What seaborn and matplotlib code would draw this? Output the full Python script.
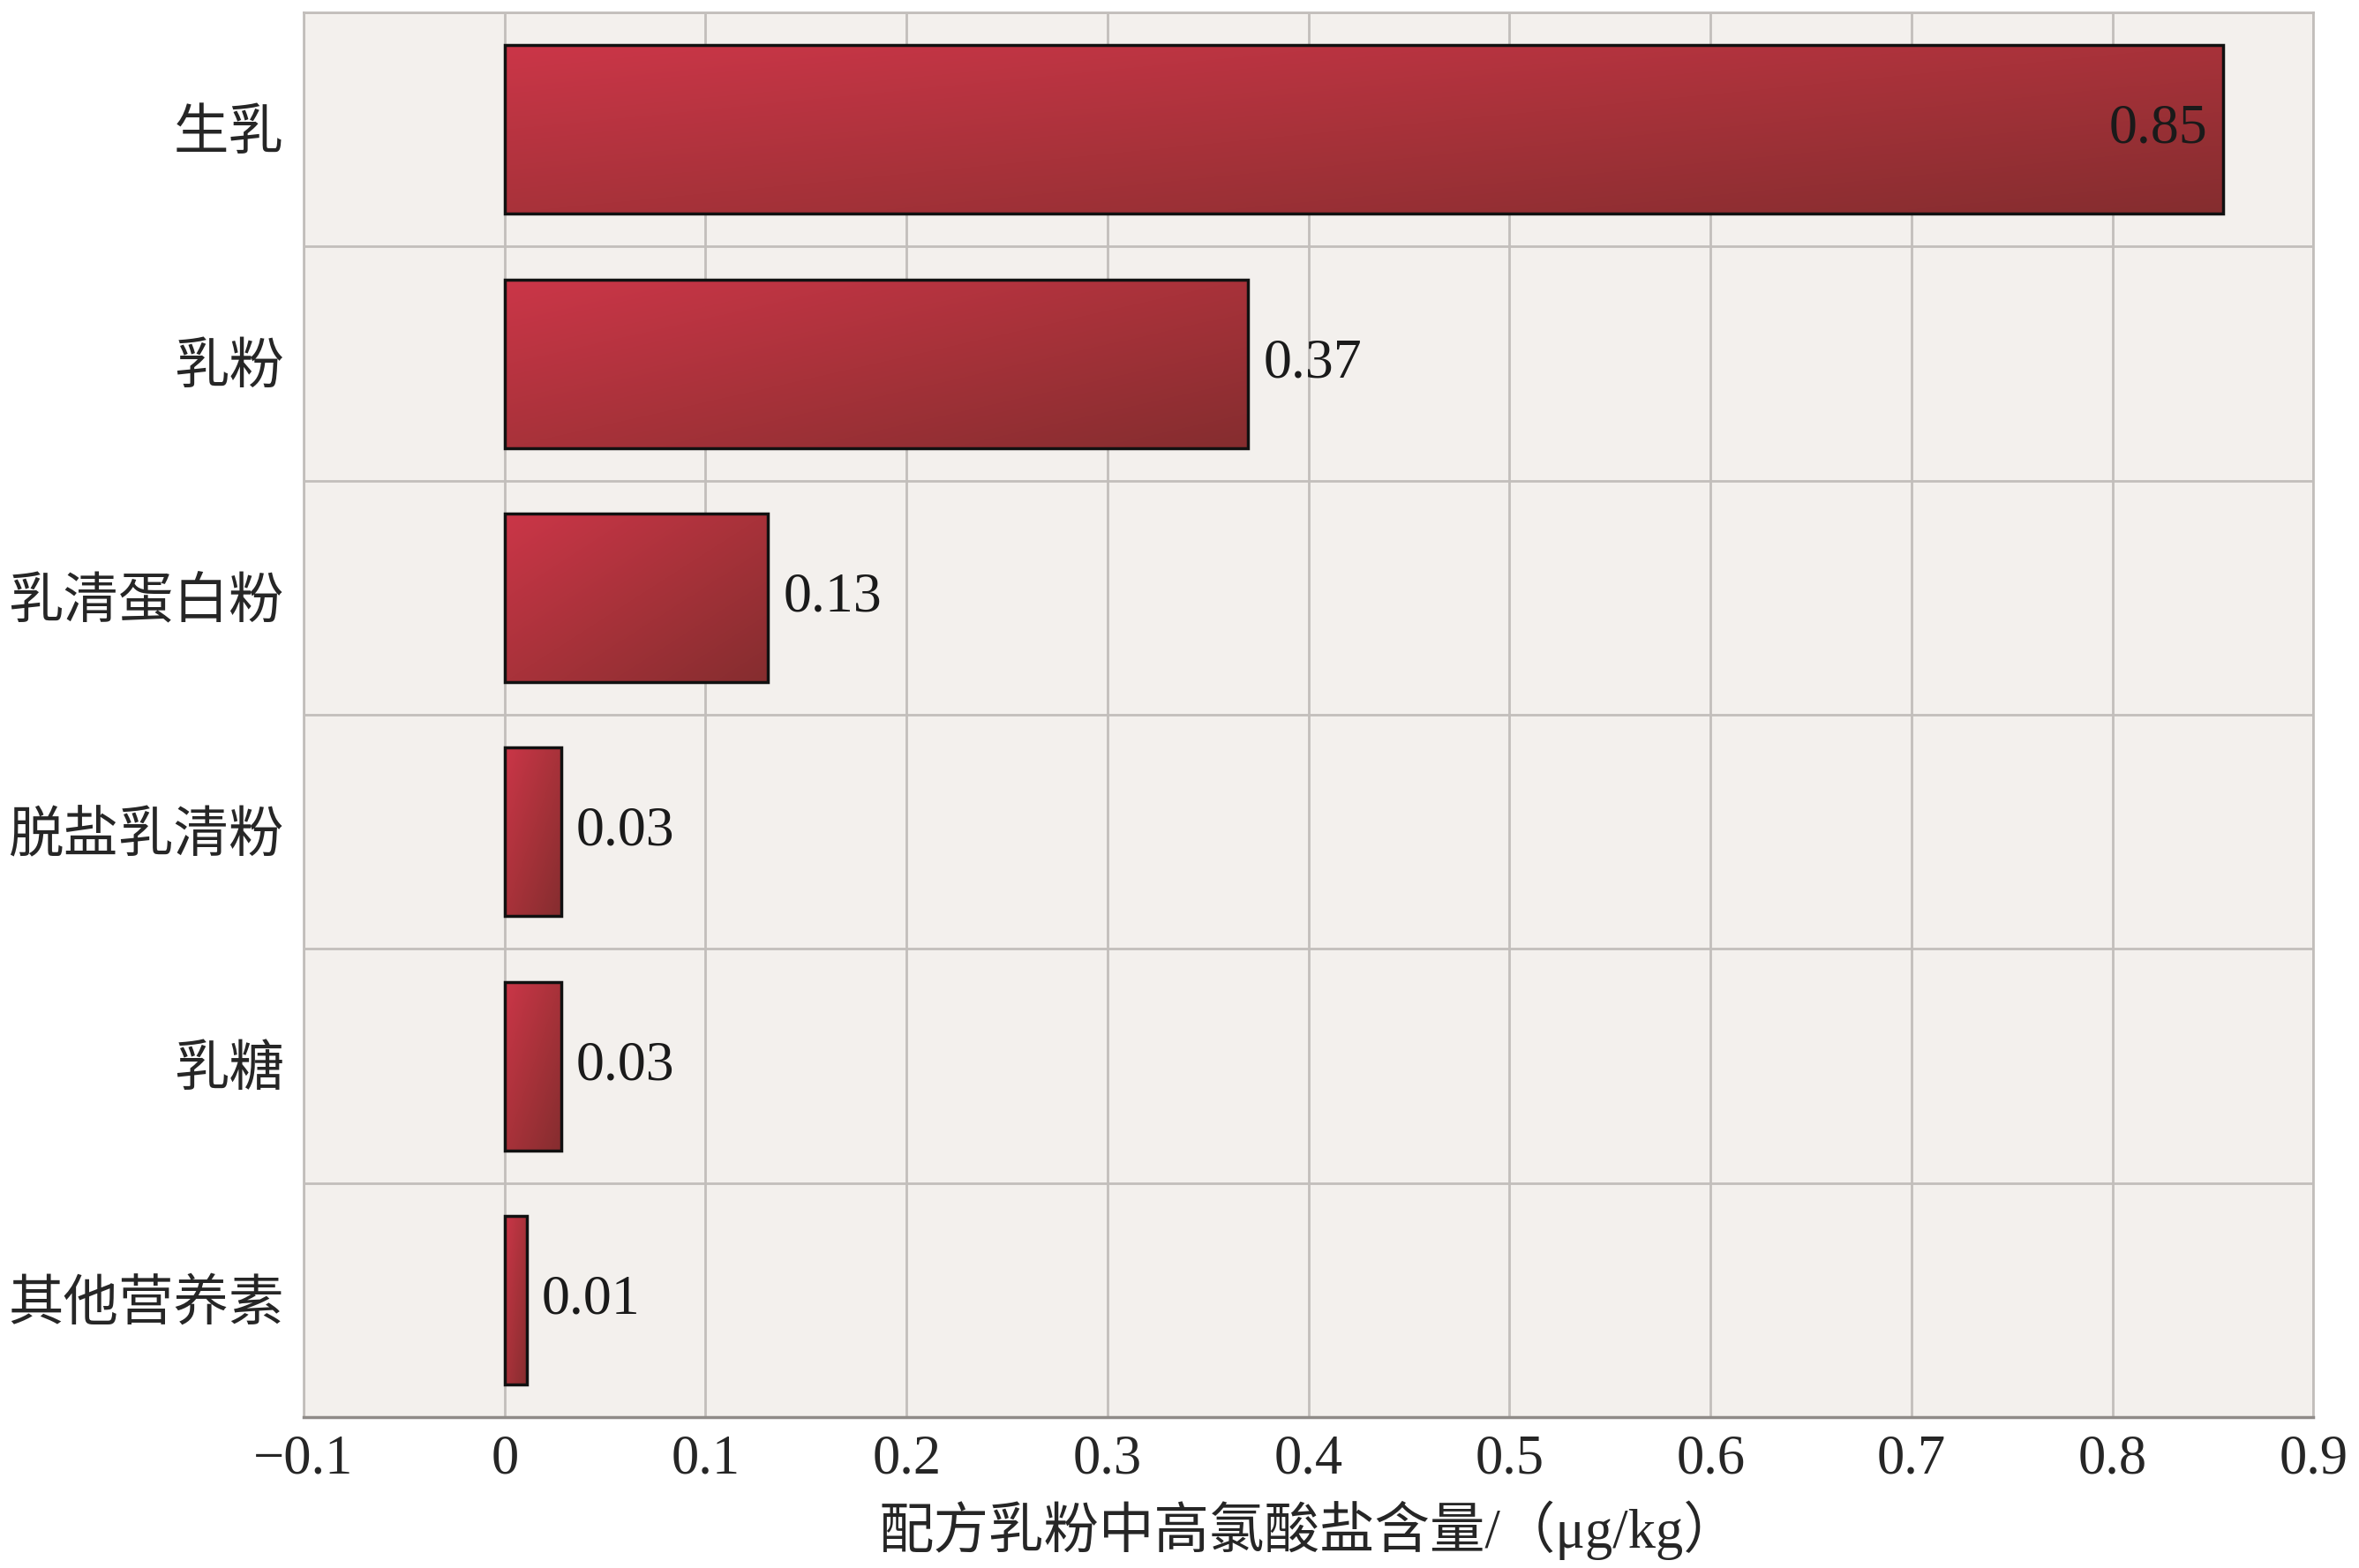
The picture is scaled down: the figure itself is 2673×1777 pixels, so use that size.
import numpy as np
import pandas as pd
import seaborn as sns
import matplotlib.pyplot as plt
from matplotlib.colors import LinearSegmentedColormap

categories = ["生乳", "乳粉", "乳清蛋白粉", "脱盐乳清粉", "乳糖", "其他营养素"]
values = [0.855, 0.37, 0.131, 0.028, 0.028, 0.011]
value_labels = ["0.85", "0.37", "0.13", "0.03", "0.03", "0.01"]
x_ticks = [-0.1, 0, 0.1, 0.2, 0.3, 0.4, 0.5, 0.6, 0.7, 0.8, 0.9]
x_tick_labels = ["\u22120.1", "0", "0.1", "0.2", "0.3", "0.4", "0.5", "0.6", "0.7", "0.8", "0.9"]
x_title = "配方乳粉中高氯酸盐含量/（μg/kg）"

sns.set_style("white")
plt.rcParams['font.family'] = ['Liberation Serif', 'Noto Sans CJK SC', 'DejaVu Sans']

df = pd.DataFrame({"cat": categories, "val": values})

fig = plt.figure(figsize=(26.73, 17.77), dpi=100)
ax = fig.add_axes([0.1287, 0.0962, 0.852, 0.8959])
ax.set_facecolor("#f3f0ed")

sns.barplot(data=df, y="cat", x="val", orient="h", width=0.72, ax=ax,
            color="#b03038", edgecolor="#111111", linewidth=2.5)

# degradado de las barras
cmap = LinearSegmentedColormap.from_list("rojo", ["#cb3648", "#a8323a", "#852d2f"])
n = 200
u = np.linspace(0, 1, n)
grad = (u[None, :] + u[:, None]) / 2
for p in ax.patches:
    x0, y0, w, h = p.get_x(), p.get_y(), p.get_width(), p.get_height()
    im = ax.imshow(grad, extent=(x0, x0 + w, y0 + h, y0), origin="upper",
                   cmap=cmap, aspect="auto", zorder=2.5, interpolation="bilinear")
    im.set_clip_path(p)
    p.set_facecolor("none")
    p.set_zorder(3)

ax.set_xlim(-0.1, 0.9)
ax.set_ylim(len(categories) - 0.5, -0.5)

for i, (v, lab) in enumerate(zip(values, value_labels)):
    if v > 0.8:
        ax.text(v - 0.0075, i, lab, ha="right", va="center", fontsize=46, color="#1a1a1a", zorder=4)
    else:
        ax.text(v + 0.0075, i, lab, ha="left", va="center", fontsize=46, color="#1a1a1a", zorder=4)

ax.set_xticks(x_ticks)
ax.set_xticklabels(x_tick_labels, fontsize=45)
ax.set_yticks(range(len(categories)))
ax.set_yticklabels(categories, fontsize=45)
ax.set_yticks(np.arange(-0.5, len(categories), 1), minor=True)
ax.tick_params(axis="y", which="both", length=0, pad=16)
ax.tick_params(axis="x", length=0, pad=14)

ax.set_axisbelow(True)
ax.grid(axis="x", which="major", color="#c2bebb", linewidth=2)
ax.grid(axis="y", which="minor", color="#c2bebb", linewidth=2)
ax.grid(axis="y", which="major", visible=False)

for s in ax.spines.values():
    s.set_color("#c2bebb")
    s.set_linewidth(2)
ax.spines["bottom"].set_color("#8f8b88")
ax.spines["bottom"].set_linewidth(2.5)

ax.set_ylabel("")
ax.set_xlabel(x_title, fontsize=45, labelpad=12)

plt.savefig("out.png", dpi=100)
